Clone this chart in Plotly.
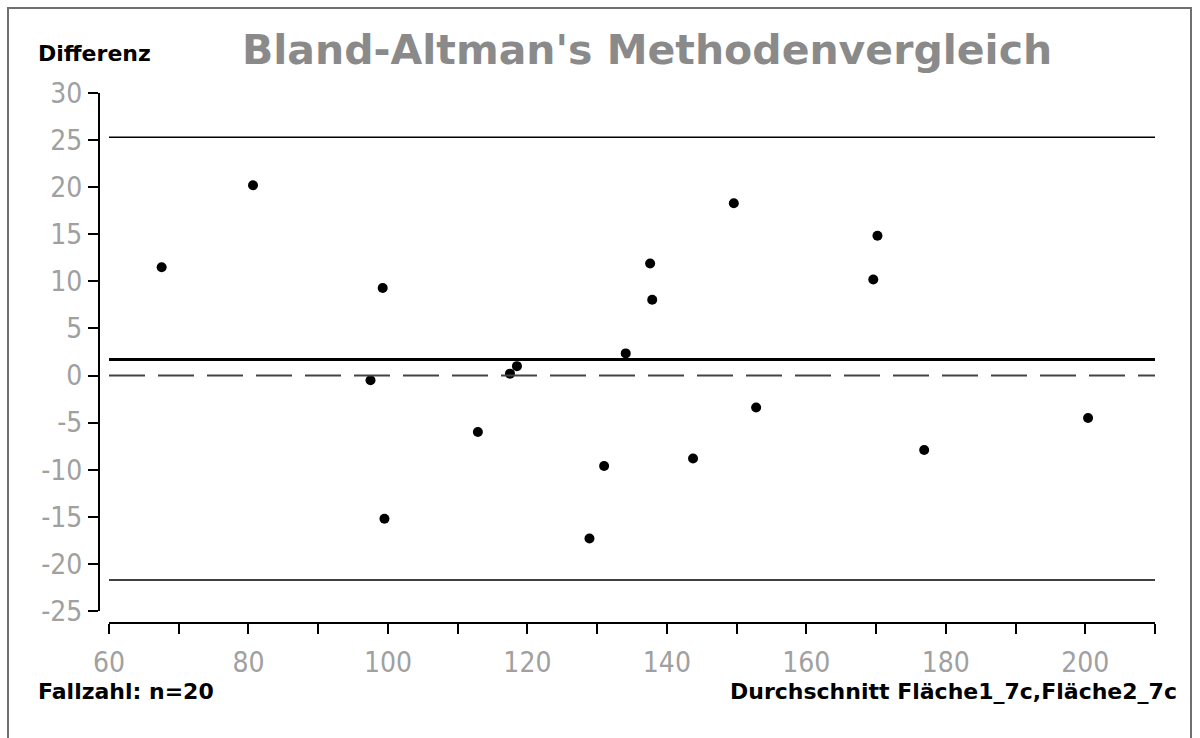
import plotly.graph_objects as go

# ---- data ----
mittelwert = [67.55, 80.65, 97.5, 99.25, 99.5, 112.9, 117.5, 118.5,
              128.9, 131.0, 134.1, 137.6, 137.9, 143.75, 149.6, 152.8,
              169.6, 170.2, 176.9, 200.4]
differenz = [11.5, 20.2, -0.5, 9.3, -15.2, -6.0, 0.2, 1.0,
             -17.3, -9.6, 2.35, 11.9, 8.05, -8.8, 18.3, -3.4,
             10.2, 14.85, -7.9, -4.5]

mean_diff = 1.7
upper_loa = 25.3
lower_loa = -21.7

x_tick_vals = [60, 70, 80, 90, 100, 110, 120, 130, 140, 150, 160, 170, 180, 190, 200, 210]
x_tick_text = ["60", "", "80", "", "100", "", "120", "", "140", "", "160", "", "180", "", "200", ""]
y_tick_vals = [-25, -20, -15, -10, -5, 0, 5, 10, 15, 20, 25, 30]
y_tick_text = ["-25", "-20", "-15", "-10", "-5", "0", "5", "10", "15", "20", "25", "30"]

title_text = "Bland-Altman's Methodenvergleich"
y_label = "Differenz"
n_label = "Fallzahl: n=20"
x_label = "Durchschnitt Fläche1_7c,Fläche2_7c"

W, H = 1200, 738


def px(x):
    return x / W


def py(y):
    return 1 - y / H


tick_font = dict(family="Liberation Sans Narrow, DejaVu Sans Condensed, DejaVu Sans, sans-serif",
                 size=28, color="#a0a0a0")
label_font = dict(family="DejaVu Sans, Verdana, sans-serif", size=22, color="black", weight="bold")

fig = go.Figure()
fig.add_trace(go.Scatter(
    x=mittelwert, y=differenz, mode="markers",
    marker=dict(size=10, color="black"), showlegend=False, hoverinfo="x+y"))

shapes = [
    dict(type="line", xref="x domain", x0=0, x1=1, yref="y", y0=upper_loa, y1=upper_loa,
         line=dict(color="black", width=1.5)),
    dict(type="line", xref="x domain", x0=0, x1=1, yref="y", y0=lower_loa, y1=lower_loa,
         line=dict(color="black", width=1.5)),
    dict(type="line", xref="x domain", x0=0, x1=1, yref="y", y0=mean_diff, y1=mean_diff,
         line=dict(color="black", width=3)),
    dict(type="line", xref="x domain", x0=0, x1=1, yref="y", y0=0, y1=0,
         line=dict(color="#444444", width=2, dash="36px,13px")),
    # outer frame (left, top, right)
    dict(type="path", xref="paper", yref="paper",
         path=f"M {px(8)} {py(760)} L {px(8)} {py(8)} L {px(1191)} {py(8)} L {px(1191)} {py(760)}",
         line=dict(color="#707070", width=2)),
]

annotations = [
    dict(text=title_text, xref="paper", yref="paper", x=px(647), y=py(50),
         xanchor="center", yanchor="middle", showarrow=False,
         font=dict(family="DejaVu Sans, Verdana, sans-serif", size=41, color="#8a8a8a", weight="bold")),
    dict(text=y_label, xref="paper", yref="paper", x=px(36), y=py(53),
         xanchor="left", yanchor="middle", showarrow=False, font=label_font),
    dict(text=n_label, xref="paper", yref="paper", x=px(36), y=py(691),
         xanchor="left", yanchor="middle", showarrow=False, font=label_font),
    dict(text=x_label, xref="paper", yref="paper", x=px(1179), y=py(691),
         xanchor="right", yanchor="middle", showarrow=False, font=label_font),
]

fig.update_layout(
    width=W, height=H, autosize=False,
    margin=dict(l=0, r=0, t=0, b=0, pad=0),
    paper_bgcolor="white", plot_bgcolor="white",
    shapes=shapes, annotations=annotations,
    xaxis=dict(domain=[px(109), px(1155)], range=[60, 210], anchor="free", position=py(623),
               showline=True, linecolor="black", linewidth=2,
               ticks="outside", ticklen=10, tickwidth=2, tickcolor="black",
               tickvals=x_tick_vals, ticktext=x_tick_text, tickfont=tick_font,
               ticklabelstandoff=4,
               showgrid=False, zeroline=False, automargin=False, fixedrange=True),
    yaxis=dict(domain=[py(611), py(93)], range=[-25, 30], anchor="free", position=px(99),
               showline=True, linecolor="black", linewidth=2,
               ticks="outside", ticklen=10, tickwidth=2, tickcolor="black",
               tickvals=y_tick_vals, ticktext=y_tick_text, tickfont=tick_font,
               showgrid=False, zeroline=False, automargin=False, fixedrange=True),
)

fig.write_html("out.html")
